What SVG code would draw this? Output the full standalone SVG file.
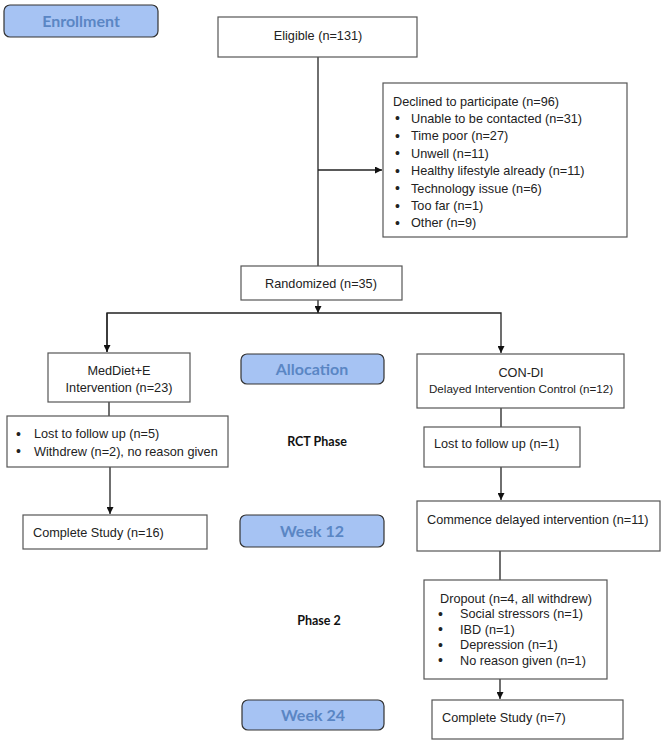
<svg xmlns="http://www.w3.org/2000/svg" width="666" height="741" viewBox="0 0 666 741">
<defs>
<style>
.box{fill:#fff;stroke:#555;stroke-width:1.2}
.stage{fill:#a6c3f3;stroke:#333;stroke-width:1.2}
.t{font-family:"Liberation Sans",Arial,sans-serif;font-size:12.7px;fill:#222}
.ts{font-family:"Liberation Sans",Arial,sans-serif;font-size:11.6px;fill:#222}
.b{font-family:"Liberation Sans",Arial,sans-serif;font-size:14px;fill:#222}
.st{font-family:Lato,"Open Sans",sans-serif;font-weight:bold;font-size:16px;fill:#5a86c4}
.ph{font-family:Lato,"Open Sans",sans-serif;font-weight:bold;font-size:12.5px;fill:#111}
.c{fill:none;stroke:#222;stroke-width:1.3}
</style>
<marker id="arr" viewBox="0 0 10 10" refX="10" refY="5" markerWidth="7" markerHeight="7" markerUnits="userSpaceOnUse" orient="auto">
<path d="M0,0 L10,5 L0,10 Z" fill="#111"/>
</marker>
</defs>
<rect width="666" height="741" fill="#fff"/>

<g id="connectors">
<line class="c" x1="318" y1="57" x2="318" y2="266"/>
<line class="c" x1="318" y1="170" x2="382" y2="170" marker-end="url(#arr)"/>
<line class="c" x1="318" y1="300" x2="318" y2="313" marker-end="url(#arr)"/>
<polyline class="c" points="107,352 107,313 501,313 501,353" marker-end="url(#arr)"/>
<line class="c" x1="107" y1="313" x2="107" y2="352" marker-end="url(#arr)"/>
<line class="c" x1="109" y1="402" x2="109" y2="416"/>
<line class="c" x1="110" y1="467" x2="110" y2="514" marker-end="url(#arr)"/>
<line class="c" x1="501" y1="408" x2="501" y2="427"/>
<line class="c" x1="501" y1="467" x2="501" y2="500" marker-end="url(#arr)"/>
<line class="c" x1="500" y1="551" x2="500" y2="580"/>
<line class="c" x1="500" y1="679" x2="500" y2="699" marker-end="url(#arr)"/>
</g>

<g id="enrollment">
<rect class="stage" x="4" y="5" width="154" height="32" rx="6"/>
<text class="st" x="81" y="26.5" text-anchor="middle">Enrollment</text>
</g>

<g id="eligible">
<rect class="box" x="218" y="17" width="199" height="40"/>
<text class="t" x="318" y="40" text-anchor="middle">Eligible (n=131)</text>
</g>

<g id="declined">
<rect class="box" x="383" y="83" width="244" height="154"/>
<text class="t" x="393" y="105.5">Declined to participate (n=96)</text>
<g class="t">
<text class="b" x="395" y="123">•</text><text x="411" y="122.5">Unable to be contacted (n=31)</text>
<text class="b" x="395" y="140.5">•</text><text x="411" y="140">Time poor (n=27)</text>
<text class="b" x="395" y="158">•</text><text x="411" y="157.5">Unwell (n=11)</text>
<text class="b" x="395" y="175.5">•</text><text x="411" y="175">Healthy lifestyle already (n=11)</text>
<text class="b" x="395" y="193">•</text><text x="411" y="192.5">Technology issue (n=6)</text>
<text class="b" x="395" y="210.5">•</text><text x="411" y="210">Too far (n=1)</text>
<text class="b" x="395" y="227.5">•</text><text x="411" y="227">Other (n=9)</text>
</g>
</g>

<g id="randomized">
<rect class="box" x="241" y="266" width="161" height="34"/>
<text class="t" x="321" y="288" text-anchor="middle">Randomized (n=35)</text>
</g>

<g id="meddiet">
<rect class="box" x="48" y="353" width="142" height="49"/>
<text class="t" x="119" y="375" text-anchor="middle">MedDiet+E</text>
<text class="t" x="119" y="391.5" text-anchor="middle">Intervention (n=23)</text>
</g>

<g id="allocation">
<rect class="stage" x="241" y="354" width="143" height="30" rx="6"/>
<text class="st" x="312" y="375" text-anchor="middle">Allocation</text>
</g>

<g id="condi">
<rect class="box" x="417" y="354" width="207" height="54"/>
<text class="t" x="521" y="376.5" text-anchor="middle">CON-DI</text>
<text class="ts" x="521" y="392.5" text-anchor="middle">Delayed Intervention Control (n=12)</text>
</g>

<g id="lost-meddiet">
<rect class="box" x="7" y="416" width="221" height="51"/>
<g class="t">
<text class="b" x="16" y="438.5">•</text><text x="34" y="438">Lost to follow up (n=5)</text>
<text class="b" x="16" y="456">•</text><text x="34" y="455.5">Withdrew (n=2), no reason given</text>
</g>
</g>

<g id="rct-phase">
<text class="ph" x="317" y="445.5" text-anchor="middle">RCT Phase</text>
</g>

<g id="lost-condi">
<rect class="box" x="424" y="427" width="156" height="40"/>
<text class="t" x="434" y="448">Lost to follow up (n=1)</text>
</g>

<g id="complete-meddiet">
<rect class="box" x="23" y="515" width="184" height="34"/>
<text class="t" x="33" y="536.5">Complete Study (n=16)</text>
</g>

<g id="week12">
<rect class="stage" x="240" y="515" width="144" height="32" rx="6"/>
<text class="st" x="312" y="537" text-anchor="middle">Week 12</text>
</g>

<g id="commence">
<rect class="box" x="417" y="501" width="243" height="50"/>
<text class="t" x="427" y="523.5">Commence delayed intervention (n=11)</text>
</g>

<g id="phase2">
<text class="ph" x="319" y="624.5" text-anchor="middle">Phase 2</text>
</g>

<g id="dropout">
<rect class="box" x="424" y="580" width="183" height="99"/>
<text class="t" x="440" y="602.5">Dropout (n=4, all withdrew)</text>
<g class="t">
<text class="b" x="438" y="618.5">•</text><text x="460" y="618">Social stressors (n=1)</text>
<text class="b" x="438" y="634">•</text><text x="460" y="633.5">IBD (n=1)</text>
<text class="b" x="438" y="649.5">•</text><text x="460" y="649">Depression (n=1)</text>
<text class="b" x="438" y="665">•</text><text x="460" y="664.5">No reason given (n=1)</text>
</g>
</g>

<g id="week24">
<rect class="stage" x="242" y="700" width="142" height="30" rx="6"/>
<text class="st" x="313" y="721" text-anchor="middle">Week 24</text>
</g>

<g id="complete-condi">
<rect class="box" x="432" y="700" width="191" height="39"/>
<text class="t" x="442" y="721.5">Complete Study (n=7)</text>
</g>
</svg>
